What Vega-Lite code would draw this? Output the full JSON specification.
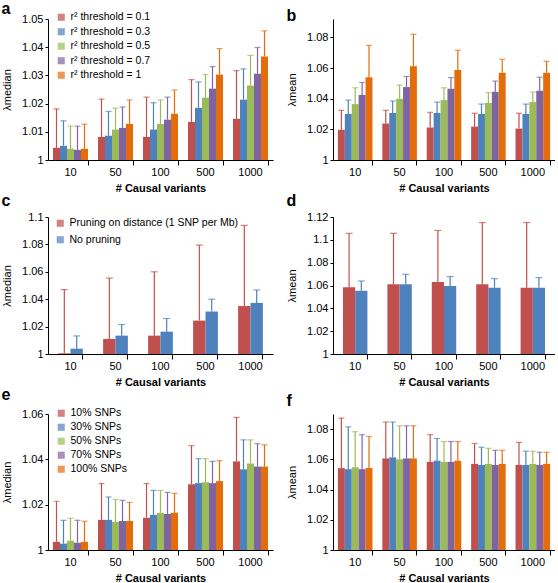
{
"$schema": "https://vega.github.io/schema/vega-lite/v6.json",
"padding": {"left": 1, "top": 1, "right": 0, "bottom": 0},
"config": {
  "font": "Liberation Sans",
  "view": {"stroke": null},
  "axis": {"domainColor": "#000", "tickColor": "#000", "labelColor": "#000", "titleColor": "#000", "labelFontSize": 11, "titleFontSize": 11, "grid": false, "domainWidth": 1, "tickWidth": 1},
  "axisY": {"tickSize": 3, "labelPadding": 2, "titleFontWeight": "normal", "titlePadding": 9},
  "legend": {"symbolType": "square", "symbolSize": 50, "labelFontSize": 10.5, "labelColor": "#000", "padding": 0, "labelOffset": 4, "symbolStrokeWidth": 0, "rowPadding": 3.5, "labelLimit": 400},
  "title": {"fontSize": 16, "fontWeight": "bold", "anchor": "start", "frame": "bounds", "color": "#000", "offset": 2},
  "concat": {"spacing": 13}
},
"datasets": {
"A": [
{"v":"10","s":"r² threshold = 0.1","m":1.0043,"u":1.0181},
{"v":"10","s":"r² threshold = 0.3","m":1.005,"u":1.0139},
{"v":"10","s":"r² threshold = 0.5","m":1.004,"u":1.012},
{"v":"10","s":"r² threshold = 0.7","m":1.0036,"u":1.012},
{"v":"10","s":"r² threshold = 1","m":1.004,"u":1.0127},
{"v":"50","s":"r² threshold = 0.1","m":1.0082,"u":1.0216},
{"v":"50","s":"r² threshold = 0.3","m":1.0086,"u":1.0172},
{"v":"50","s":"r² threshold = 0.5","m":1.0108,"u":1.0184},
{"v":"50","s":"r² threshold = 0.7","m":1.0114,"u":1.0188},
{"v":"50","s":"r² threshold = 1","m":1.0128,"u":1.0213},
{"v":"100","s":"r² threshold = 0.1","m":1.0082,"u":1.0223},
{"v":"100","s":"r² threshold = 0.3","m":1.0108,"u":1.0203},
{"v":"100","s":"r² threshold = 0.5","m":1.0128,"u":1.0213},
{"v":"100","s":"r² threshold = 0.7","m":1.0143,"u":1.0223},
{"v":"100","s":"r² threshold = 1","m":1.0164,"u":1.0248},
{"v":"500","s":"r² threshold = 0.1","m":1.0135,"u":1.0285},
{"v":"500","s":"r² threshold = 0.3","m":1.0185,"u":1.0277},
{"v":"500","s":"r² threshold = 0.5","m":1.0221,"u":1.0303},
{"v":"500","s":"r² threshold = 0.7","m":1.0253,"u":1.0331},
{"v":"500","s":"r² threshold = 1","m":1.0303,"u":1.0395},
{"v":"1000","s":"r² threshold = 0.1","m":1.0146,"u":1.0317},
{"v":"1000","s":"r² threshold = 0.3","m":1.0214,"u":1.0323},
{"v":"1000","s":"r² threshold = 0.5","m":1.0264,"u":1.0371},
{"v":"1000","s":"r² threshold = 0.7","m":1.0306,"u":1.0399},
{"v":"1000","s":"r² threshold = 1","m":1.0367,"u":1.0458}
],
"B": [
{"v":"10","s":"r² threshold = 0.1","m":1.0197,"u":1.0324},
{"v":"10","s":"r² threshold = 0.3","m":1.030,"u":1.0391},
{"v":"10","s":"r² threshold = 0.5","m":1.0365,"u":1.0471},
{"v":"10","s":"r² threshold = 0.7","m":1.0424,"u":1.0506},
{"v":"10","s":"r² threshold = 1","m":1.054,"u":1.0748},
{"v":"50","s":"r² threshold = 0.1","m":1.0238,"u":1.0324},
{"v":"50","s":"r² threshold = 0.3","m":1.0307,"u":1.0385},
{"v":"50","s":"r² threshold = 0.5","m":1.040,"u":1.0489},
{"v":"50","s":"r² threshold = 0.7","m":1.0476,"u":1.0545},
{"v":"50","s":"r² threshold = 1","m":1.0612,"u":1.082},
{"v":"100","s":"r² threshold = 0.1","m":1.0212,"u":1.0311},
{"v":"100","s":"r² threshold = 0.3","m":1.0307,"u":1.0378},
{"v":"100","s":"r² threshold = 0.5","m":1.0391,"u":1.0471},
{"v":"100","s":"r² threshold = 0.7","m":1.0465,"u":1.0538},
{"v":"100","s":"r² threshold = 1","m":1.0588,"u":1.0716},
{"v":"500","s":"r² threshold = 0.1","m":1.0218,"u":1.0305},
{"v":"500","s":"r² threshold = 0.3","m":1.030,"u":1.0365},
{"v":"500","s":"r² threshold = 0.5","m":1.0372,"u":1.0439},
{"v":"500","s":"r² threshold = 0.7","m":1.0445,"u":1.0515},
{"v":"500","s":"r² threshold = 1","m":1.0569,"u":1.0657},
{"v":"1000","s":"r² threshold = 0.1","m":1.0205,"u":1.0305},
{"v":"1000","s":"r² threshold = 0.3","m":1.030,"u":1.0365},
{"v":"1000","s":"r² threshold = 0.5","m":1.0378,"u":1.0443},
{"v":"1000","s":"r² threshold = 0.7","m":1.0452,"u":1.054},
{"v":"1000","s":"r² threshold = 1","m":1.0569,"u":1.0644}
],
"C": [
{"v":"10","s":"Pruning on distance (1 SNP per Mb)","m":1.0005,"u":1.047},
{"v":"10","s":"No pruning","m":1.0039,"u":1.0132},
{"v":"50","s":"Pruning on distance (1 SNP per Mb)","m":1.011,"u":1.0554},
{"v":"50","s":"No pruning","m":1.0134,"u":1.0215},
{"v":"100","s":"Pruning on distance (1 SNP per Mb)","m":1.0134,"u":1.06},
{"v":"100","s":"No pruning","m":1.0163,"u":1.0259},
{"v":"500","s":"Pruning on distance (1 SNP per Mb)","m":1.0244,"u":1.0795},
{"v":"500","s":"No pruning","m":1.031,"u":1.04},
{"v":"1000","s":"Pruning on distance (1 SNP per Mb)","m":1.035,"u":1.0939},
{"v":"1000","s":"No pruning","m":1.0373,"u":1.0468}
],
"D": [
{"v":"10","s":"Pruning on distance (1 SNP per Mb)","m":1.0585,"u":1.1057},
{"v":"10","s":"No pruning","m":1.0554,"u":1.064},
{"v":"50","s":"Pruning on distance (1 SNP per Mb)","m":1.061,"u":1.1057},
{"v":"50","s":"No pruning","m":1.061,"u":1.0698},
{"v":"100","s":"Pruning on distance (1 SNP per Mb)","m":1.063,"u":1.1082},
{"v":"100","s":"No pruning","m":1.0595,"u":1.0678},
{"v":"500","s":"Pruning on distance (1 SNP per Mb)","m":1.061,"u":1.1151},
{"v":"500","s":"No pruning","m":1.058,"u":1.066},
{"v":"1000","s":"Pruning on distance (1 SNP per Mb)","m":1.058,"u":1.1151},
{"v":"1000","s":"No pruning","m":1.058,"u":1.0669}
],
"E": [
{"v":"10","s":"10% SNPs","m":1.0036,"u":1.0215},
{"v":"10","s":"30% SNPs","m":1.0028,"u":1.0131},
{"v":"10","s":"50% SNPs","m":1.0041,"u":1.014},
{"v":"10","s":"70% SNPs","m":1.0032,"u":1.0131},
{"v":"10","s":"100% SNPs","m":1.0036,"u":1.0127},
{"v":"50","s":"10% SNPs","m":1.0133,"u":1.0293},
{"v":"50","s":"30% SNPs","m":1.0133,"u":1.0234},
{"v":"50","s":"50% SNPs","m":1.0124,"u":1.0223},
{"v":"50","s":"70% SNPs","m":1.0128,"u":1.0219},
{"v":"50","s":"100% SNPs","m":1.0128,"u":1.021},
{"v":"100","s":"10% SNPs","m":1.0142,"u":1.0293},
{"v":"100","s":"30% SNPs","m":1.0155,"u":1.0263},
{"v":"100","s":"50% SNPs","m":1.0164,"u":1.0263},
{"v":"100","s":"70% SNPs","m":1.0159,"u":1.0254},
{"v":"100","s":"100% SNPs","m":1.0164,"u":1.025},
{"v":"500","s":"10% SNPs","m":1.029,"u":1.046},
{"v":"500","s":"30% SNPs","m":1.0295,"u":1.0403},
{"v":"500","s":"50% SNPs","m":1.0299,"u":1.0403},
{"v":"500","s":"70% SNPs","m":1.0295,"u":1.0391},
{"v":"500","s":"100% SNPs","m":1.0304,"u":1.0394},
{"v":"1000","s":"10% SNPs","m":1.0391,"u":1.0585},
{"v":"1000","s":"30% SNPs","m":1.0356,"u":1.0486},
{"v":"1000","s":"50% SNPs","m":1.0382,"u":1.0486},
{"v":"1000","s":"70% SNPs","m":1.0368,"u":1.0469},
{"v":"1000","s":"100% SNPs","m":1.0368,"u":1.0464}
],
"F": [
{"v":"10","s":"10% SNPs","m":1.0542,"u":1.0873},
{"v":"10","s":"30% SNPs","m":1.0535,"u":1.0815},
{"v":"10","s":"50% SNPs","m":1.0548,"u":1.0783},
{"v":"10","s":"70% SNPs","m":1.0535,"u":1.0763},
{"v":"10","s":"100% SNPs","m":1.0542,"u":1.0751},
{"v":"50","s":"10% SNPs","m":1.0606,"u":1.0847},
{"v":"50","s":"30% SNPs","m":1.0613,"u":1.0847},
{"v":"50","s":"50% SNPs","m":1.060,"u":1.0822},
{"v":"50","s":"70% SNPs","m":1.0606,"u":1.0822},
{"v":"50","s":"100% SNPs","m":1.0606,"u":1.0822},
{"v":"100","s":"10% SNPs","m":1.0583,"u":1.0763},
{"v":"100","s":"30% SNPs","m":1.0591,"u":1.0738},
{"v":"100","s":"50% SNPs","m":1.0583,"u":1.0718},
{"v":"100","s":"70% SNPs","m":1.0583,"u":1.0718},
{"v":"100","s":"100% SNPs","m":1.0591,"u":1.0718},
{"v":"500","s":"10% SNPs","m":1.057,"u":1.0705},
{"v":"500","s":"30% SNPs","m":1.0563,"u":1.068},
{"v":"500","s":"50% SNPs","m":1.057,"u":1.0673},
{"v":"500","s":"70% SNPs","m":1.0563,"u":1.066},
{"v":"500","s":"100% SNPs","m":1.057,"u":1.066},
{"v":"1000","s":"10% SNPs","m":1.0563,"u":1.0712},
{"v":"1000","s":"30% SNPs","m":1.0563,"u":1.0654},
{"v":"1000","s":"50% SNPs","m":1.057,"u":1.0654},
{"v":"1000","s":"70% SNPs","m":1.0563,"u":1.0647},
{"v":"1000","s":"100% SNPs","m":1.057,"u":1.0647}
]
},
"resolve": {"scale": {"color": "independent", "xOffset": "independent"}, "legend": {"color": "independent"}},
"spacing": 0,
"vconcat": [
{"hconcat": [
 {"title": {"text": "a", "offset": -5}, "width": 225, "height": 141, "data": {"name": "A"},
  "resolve": {"axis": {"x": "independent"}},
  "layer": [
   {"mark": {"type": "bar"},
    "encoding": {
     "x": {"field": "v", "type": "nominal", "scale": {"type": "band", "domain": ["10","50","100","500","1000"], "paddingInner": 0.222, "paddingOuter": 0.111}, "axis": {"title": "# Causal variants", "titleFontWeight": "bold", "ticks": false, "labelPadding": 6, "labelAngle": 0, "titlePadding": 5}},
     "xOffset": {"field": "s", "type": "nominal", "scale": {"type": "band", "domain": ["r² threshold = 0.1","r² threshold = 0.3","r² threshold = 0.5","r² threshold = 0.7","r² threshold = 1"], "paddingInner": 0, "paddingOuter": 0}},
     "y": {"field": "m", "type": "quantitative", "scale": {"domain": [1, 1.05], "nice": false, "zero": false}, "axis": {"title": "λmedian", "values": [1, 1.01, 1.02, 1.03, 1.04, 1.05], "format": ".2~f"}},
     "y2": {"datum": 1},
     "color": {"field": "s", "type": "nominal", "scale": {"domain": ["r² threshold = 0.1","r² threshold = 0.3","r² threshold = 0.5","r² threshold = 0.7","r² threshold = 1"], "range": ["#C0504D","#4F81BD","#9BBB59","#8064A2","#E46C0A"]}, "legend": {"title": null, "orient": "none", "legendX": 8, "legendY": -7, "labelFontSize": 10.5}}
    }},
   {"mark": {"type": "rule", "strokeWidth": 1.2},
    "encoding": {
     "x": {"field": "v", "type": "nominal", "scale": {"type": "band", "domain": ["10","50","100","500","1000"], "paddingInner": 0.222, "paddingOuter": 0.111}, "axis": {"orient": "bottom", "title": null, "labels": false, "domain": false, "ticks": true, "tickSize": 5, "bandPosition": 1}},
     "xOffset": {"field": "s", "type": "nominal", "scale": {"type": "band", "domain": ["r² threshold = 0.1","r² threshold = 0.3","r² threshold = 0.5","r² threshold = 0.7","r² threshold = 1"], "paddingInner": 0, "paddingOuter": 0}},
     "y": {"field": "m", "type": "quantitative", "scale": {"domain": [1, 1.05], "nice": false, "zero": false}, "axis": {"title": "λmedian", "values": [1, 1.01, 1.02, 1.03, 1.04, 1.05], "format": ".2~f"}},
     "y2": {"field": "u"},
     "color": {"field": "s", "type": "nominal"}
    }},
   {"mark": {"type": "tick", "thickness": 1.2, "size": 6},
    "encoding": {
     "x": {"field": "v", "type": "nominal", "scale": {"type": "band", "domain": ["10","50","100","500","1000"], "paddingInner": 0.222, "paddingOuter": 0.111}, "axis": null},
     "xOffset": {"field": "s", "type": "nominal", "scale": {"type": "band", "domain": ["r² threshold = 0.1","r² threshold = 0.3","r² threshold = 0.5","r² threshold = 0.7","r² threshold = 1"], "paddingInner": 0, "paddingOuter": 0}},
     "y": {"field": "u", "type": "quantitative", "scale": {"domain": [1, 1.05], "nice": false, "zero": false}, "axis": {"title": "λmedian", "values": [1, 1.01, 1.02, 1.03, 1.04, 1.05], "format": ".2~f"}},
     "color": {"field": "s", "type": "nominal"}
    }}
  ]},
 {"title": {"text": "b", "offset": -5}, "width": 222, "height": 141, "data": {"name": "B"},
  "resolve": {"axis": {"x": "independent"}},
  "layer": [
   {"mark": {"type": "bar"},
    "encoding": {
     "x": {"field": "v", "type": "nominal", "scale": {"type": "band", "domain": ["10","50","100","500","1000"], "paddingInner": 0.222, "paddingOuter": 0.111}, "axis": {"title": "# Causal variants", "titleFontWeight": "bold", "ticks": false, "labelPadding": 6, "labelAngle": 0, "titlePadding": 5}},
     "xOffset": {"field": "s", "type": "nominal", "scale": {"type": "band", "domain": ["r² threshold = 0.1","r² threshold = 0.3","r² threshold = 0.5","r² threshold = 0.7","r² threshold = 1"], "paddingInner": 0, "paddingOuter": 0}},
     "y": {"field": "m", "type": "quantitative", "scale": {"domain": [1, 1.092], "nice": false, "zero": false}, "axis": {"title": "λmean", "values": [1, 1.02, 1.04, 1.06, 1.08], "format": ".2~f"}},
     "y2": {"datum": 1},
     "color": {"field": "s", "type": "nominal", "scale": {"domain": ["r² threshold = 0.1","r² threshold = 0.3","r² threshold = 0.5","r² threshold = 0.7","r² threshold = 1"], "range": ["#C0504D","#4F81BD","#9BBB59","#8064A2","#E46C0A"]}, "legend": null}
    }},
   {"mark": {"type": "rule", "strokeWidth": 1.2},
    "encoding": {
     "x": {"field": "v", "type": "nominal", "scale": {"type": "band", "domain": ["10","50","100","500","1000"], "paddingInner": 0.222, "paddingOuter": 0.111}, "axis": {"orient": "bottom", "title": null, "labels": false, "domain": false, "ticks": true, "tickSize": 5, "bandPosition": 1}},
     "xOffset": {"field": "s", "type": "nominal", "scale": {"type": "band", "domain": ["r² threshold = 0.1","r² threshold = 0.3","r² threshold = 0.5","r² threshold = 0.7","r² threshold = 1"], "paddingInner": 0, "paddingOuter": 0}},
     "y": {"field": "m", "type": "quantitative", "scale": {"domain": [1, 1.092], "nice": false, "zero": false}, "axis": {"title": "λmean", "values": [1, 1.02, 1.04, 1.06, 1.08], "format": ".2~f"}},
     "y2": {"field": "u"},
     "color": {"field": "s", "type": "nominal"}
    }},
   {"mark": {"type": "tick", "thickness": 1.2, "size": 6},
    "encoding": {
     "x": {"field": "v", "type": "nominal", "scale": {"type": "band", "domain": ["10","50","100","500","1000"], "paddingInner": 0.222, "paddingOuter": 0.111}, "axis": null},
     "xOffset": {"field": "s", "type": "nominal", "scale": {"type": "band", "domain": ["r² threshold = 0.1","r² threshold = 0.3","r² threshold = 0.5","r² threshold = 0.7","r² threshold = 1"], "paddingInner": 0, "paddingOuter": 0}},
     "y": {"field": "u", "type": "quantitative", "scale": {"domain": [1, 1.092], "nice": false, "zero": false}, "axis": {"title": "λmean", "values": [1, 1.02, 1.04, 1.06, 1.08], "format": ".2~f"}},
     "color": {"field": "s", "type": "nominal"}
    }}
  ]}
 ], "resolve": {"scale": {"color": "independent", "xOffset": "independent"}, "legend": {"color": "independent"}}},
{"hconcat": [
 {"title": {"text": "c", "offset": 2}, "width": 225, "height": 137, "data": {"name": "C"},
  "resolve": {"axis": {"x": "independent"}},
  "layer": [
   {"mark": {"type": "bar"},
    "encoding": {
     "x": {"field": "v", "type": "nominal", "scale": {"type": "band", "domain": ["10","50","100","500","1000"], "paddingInner": 0.45, "paddingOuter": 0.225}, "axis": {"title": "# Causal variants", "titleFontWeight": "bold", "ticks": false, "labelPadding": 6, "labelAngle": 0, "titlePadding": 5}},
     "xOffset": {"field": "s", "type": "nominal", "scale": {"type": "band", "domain": ["Pruning on distance (1 SNP per Mb)","No pruning"], "paddingInner": 0, "paddingOuter": 0}},
     "y": {"field": "m", "type": "quantitative", "scale": {"domain": [1, 1.1], "nice": false, "zero": false}, "axis": {"title": "λmedian", "values": [1, 1.02, 1.04, 1.06, 1.08, 1.1], "format": ".2~f"}},
     "y2": {"datum": 1},
     "color": {"field": "s", "type": "nominal", "scale": {"domain": ["Pruning on distance (1 SNP per Mb)","No pruning"], "range": ["#C0504D","#4F81BD"]}, "legend": {"title": null, "orient": "none", "legendX": 7, "legendY": 1, "labelFontSize": 10.5, "rowPadding": 5.5}}
    }},
   {"mark": {"type": "rule", "strokeWidth": 1.2},
    "encoding": {
     "x": {"field": "v", "type": "nominal", "scale": {"type": "band", "domain": ["10","50","100","500","1000"], "paddingInner": 0.45, "paddingOuter": 0.225}, "axis": {"orient": "bottom", "title": null, "labels": false, "domain": false, "ticks": true, "tickSize": 5, "bandPosition": 1}},
     "xOffset": {"field": "s", "type": "nominal", "scale": {"type": "band", "domain": ["Pruning on distance (1 SNP per Mb)","No pruning"], "paddingInner": 0, "paddingOuter": 0}},
     "y": {"field": "m", "type": "quantitative", "scale": {"domain": [1, 1.1], "nice": false, "zero": false}, "axis": {"title": "λmedian", "values": [1, 1.02, 1.04, 1.06, 1.08, 1.1], "format": ".2~f"}},
     "y2": {"field": "u"},
     "color": {"field": "s", "type": "nominal"}
    }},
   {"mark": {"type": "tick", "thickness": 1.2, "size": 7},
    "encoding": {
     "x": {"field": "v", "type": "nominal", "scale": {"type": "band", "domain": ["10","50","100","500","1000"], "paddingInner": 0.45, "paddingOuter": 0.225}, "axis": null},
     "xOffset": {"field": "s", "type": "nominal", "scale": {"type": "band", "domain": ["Pruning on distance (1 SNP per Mb)","No pruning"], "paddingInner": 0, "paddingOuter": 0}},
     "y": {"field": "u", "type": "quantitative", "scale": {"domain": [1, 1.1], "nice": false, "zero": false}, "axis": {"title": "λmedian", "values": [1, 1.02, 1.04, 1.06, 1.08, 1.1], "format": ".2~f"}},
     "color": {"field": "s", "type": "nominal"}
    }}
  ]},
 {"title": {"text": "d", "offset": 2}, "width": 222, "height": 137, "data": {"name": "D"},
  "resolve": {"axis": {"x": "independent"}},
  "layer": [
   {"mark": {"type": "bar"},
    "encoding": {
     "x": {"field": "v", "type": "nominal", "scale": {"type": "band", "domain": ["10","50","100","500","1000"], "paddingInner": 0.45, "paddingOuter": 0.225}, "axis": {"title": "# Causal variants", "titleFontWeight": "bold", "ticks": false, "labelPadding": 6, "labelAngle": 0, "titlePadding": 5}},
     "xOffset": {"field": "s", "type": "nominal", "scale": {"type": "band", "domain": ["Pruning on distance (1 SNP per Mb)","No pruning"], "paddingInner": 0, "paddingOuter": 0}},
     "y": {"field": "m", "type": "quantitative", "scale": {"domain": [1, 1.12], "nice": false, "zero": false}, "axis": {"title": "λmean", "values": [1, 1.02, 1.04, 1.06, 1.08, 1.1, 1.12], "format": ".2~f"}},
     "y2": {"datum": 1},
     "color": {"field": "s", "type": "nominal", "scale": {"domain": ["Pruning on distance (1 SNP per Mb)","No pruning"], "range": ["#C0504D","#4F81BD"]}, "legend": null}
    }},
   {"mark": {"type": "rule", "strokeWidth": 1.2},
    "encoding": {
     "x": {"field": "v", "type": "nominal", "scale": {"type": "band", "domain": ["10","50","100","500","1000"], "paddingInner": 0.45, "paddingOuter": 0.225}, "axis": {"orient": "bottom", "title": null, "labels": false, "domain": false, "ticks": true, "tickSize": 5, "bandPosition": 1}},
     "xOffset": {"field": "s", "type": "nominal", "scale": {"type": "band", "domain": ["Pruning on distance (1 SNP per Mb)","No pruning"], "paddingInner": 0, "paddingOuter": 0}},
     "y": {"field": "m", "type": "quantitative", "scale": {"domain": [1, 1.12], "nice": false, "zero": false}, "axis": {"title": "λmean", "values": [1, 1.02, 1.04, 1.06, 1.08, 1.1, 1.12], "format": ".2~f"}},
     "y2": {"field": "u"},
     "color": {"field": "s", "type": "nominal"}
    }},
   {"mark": {"type": "tick", "thickness": 1.2, "size": 7},
    "encoding": {
     "x": {"field": "v", "type": "nominal", "scale": {"type": "band", "domain": ["10","50","100","500","1000"], "paddingInner": 0.45, "paddingOuter": 0.225}, "axis": null},
     "xOffset": {"field": "s", "type": "nominal", "scale": {"type": "band", "domain": ["Pruning on distance (1 SNP per Mb)","No pruning"], "paddingInner": 0, "paddingOuter": 0}},
     "y": {"field": "u", "type": "quantitative", "scale": {"domain": [1, 1.12], "nice": false, "zero": false}, "axis": {"title": "λmean", "values": [1, 1.02, 1.04, 1.06, 1.08, 1.1, 1.12], "format": ".2~f"}},
     "color": {"field": "s", "type": "nominal"}
    }}
  ]}
 ], "resolve": {"scale": {"color": "independent", "xOffset": "independent"}, "legend": {"color": "independent"}}},
{"hconcat": [
 {"title": {"text": "e", "offset": 5}, "width": 225, "height": 136, "data": {"name": "E"},
  "resolve": {"axis": {"x": "independent"}},
  "layer": [
   {"mark": {"type": "bar"},
    "encoding": {
     "x": {"field": "v", "type": "nominal", "scale": {"type": "band", "domain": ["10","50","100","500","1000"], "paddingInner": 0.222, "paddingOuter": 0.111}, "axis": {"title": "# Causal variants", "titleFontWeight": "bold", "ticks": false, "labelPadding": 6, "labelAngle": 0, "titlePadding": 5}},
     "xOffset": {"field": "s", "type": "nominal", "scale": {"type": "band", "domain": ["10% SNPs","30% SNPs","50% SNPs","70% SNPs","100% SNPs"], "paddingInner": 0, "paddingOuter": 0}},
     "y": {"field": "m", "type": "quantitative", "scale": {"domain": [1, 1.06], "nice": false, "zero": false}, "axis": {"title": "λmedian", "values": [1, 1.02, 1.04, 1.06], "format": ".2~f"}},
     "y2": {"datum": 1},
     "color": {"field": "s", "type": "nominal", "scale": {"domain": ["10% SNPs","30% SNPs","50% SNPs","70% SNPs","100% SNPs"], "range": ["#C0504D","#4F81BD","#9BBB59","#8064A2","#E46C0A"]}, "legend": {"title": null, "orient": "none", "legendX": 8, "legendY": -6, "rowPadding": 3}}
    }},
   {"mark": {"type": "rule", "strokeWidth": 1.2},
    "encoding": {
     "x": {"field": "v", "type": "nominal", "scale": {"type": "band", "domain": ["10","50","100","500","1000"], "paddingInner": 0.222, "paddingOuter": 0.111}, "axis": {"orient": "bottom", "title": null, "labels": false, "domain": false, "ticks": true, "tickSize": 5, "bandPosition": 1}},
     "xOffset": {"field": "s", "type": "nominal", "scale": {"type": "band", "domain": ["10% SNPs","30% SNPs","50% SNPs","70% SNPs","100% SNPs"], "paddingInner": 0, "paddingOuter": 0}},
     "y": {"field": "m", "type": "quantitative", "scale": {"domain": [1, 1.06], "nice": false, "zero": false}, "axis": {"title": "λmedian", "values": [1, 1.02, 1.04, 1.06], "format": ".2~f"}},
     "y2": {"field": "u"},
     "color": {"field": "s", "type": "nominal"}
    }},
   {"mark": {"type": "tick", "thickness": 1.2, "size": 6},
    "encoding": {
     "x": {"field": "v", "type": "nominal", "scale": {"type": "band", "domain": ["10","50","100","500","1000"], "paddingInner": 0.222, "paddingOuter": 0.111}, "axis": null},
     "xOffset": {"field": "s", "type": "nominal", "scale": {"type": "band", "domain": ["10% SNPs","30% SNPs","50% SNPs","70% SNPs","100% SNPs"], "paddingInner": 0, "paddingOuter": 0}},
     "y": {"field": "u", "type": "quantitative", "scale": {"domain": [1, 1.06], "nice": false, "zero": false}, "axis": {"title": "λmedian", "values": [1, 1.02, 1.04, 1.06], "format": ".2~f"}},
     "color": {"field": "s", "type": "nominal"}
    }}
  ]},
 {"title": {"text": "f", "offset": 5}, "width": 222, "height": 136, "data": {"name": "F"},
  "resolve": {"axis": {"x": "independent"}},
  "layer": [
   {"mark": {"type": "bar"},
    "encoding": {
     "x": {"field": "v", "type": "nominal", "scale": {"type": "band", "domain": ["10","50","100","500","1000"], "paddingInner": 0.222, "paddingOuter": 0.111}, "axis": {"title": "# Causal variants", "titleFontWeight": "bold", "ticks": false, "labelPadding": 6, "labelAngle": 0, "titlePadding": 5}},
     "xOffset": {"field": "s", "type": "nominal", "scale": {"type": "band", "domain": ["10% SNPs","30% SNPs","50% SNPs","70% SNPs","100% SNPs"], "paddingInner": 0, "paddingOuter": 0}},
     "y": {"field": "m", "type": "quantitative", "scale": {"domain": [1, 1.09], "nice": false, "zero": false}, "axis": {"title": "λmean", "values": [1, 1.02, 1.04, 1.06, 1.08], "format": ".2~f"}},
     "y2": {"datum": 1},
     "color": {"field": "s", "type": "nominal", "scale": {"domain": ["10% SNPs","30% SNPs","50% SNPs","70% SNPs","100% SNPs"], "range": ["#C0504D","#4F81BD","#9BBB59","#8064A2","#E46C0A"]}, "legend": null}
    }},
   {"mark": {"type": "rule", "strokeWidth": 1.2},
    "encoding": {
     "x": {"field": "v", "type": "nominal", "scale": {"type": "band", "domain": ["10","50","100","500","1000"], "paddingInner": 0.222, "paddingOuter": 0.111}, "axis": {"orient": "bottom", "title": null, "labels": false, "domain": false, "ticks": true, "tickSize": 5, "bandPosition": 1}},
     "xOffset": {"field": "s", "type": "nominal", "scale": {"type": "band", "domain": ["10% SNPs","30% SNPs","50% SNPs","70% SNPs","100% SNPs"], "paddingInner": 0, "paddingOuter": 0}},
     "y": {"field": "m", "type": "quantitative", "scale": {"domain": [1, 1.09], "nice": false, "zero": false}, "axis": {"title": "λmean", "values": [1, 1.02, 1.04, 1.06, 1.08], "format": ".2~f"}},
     "y2": {"field": "u"},
     "color": {"field": "s", "type": "nominal"}
    }},
   {"mark": {"type": "tick", "thickness": 1.2, "size": 6},
    "encoding": {
     "x": {"field": "v", "type": "nominal", "scale": {"type": "band", "domain": ["10","50","100","500","1000"], "paddingInner": 0.222, "paddingOuter": 0.111}, "axis": null},
     "xOffset": {"field": "s", "type": "nominal", "scale": {"type": "band", "domain": ["10% SNPs","30% SNPs","50% SNPs","70% SNPs","100% SNPs"], "paddingInner": 0, "paddingOuter": 0}},
     "y": {"field": "u", "type": "quantitative", "scale": {"domain": [1, 1.09], "nice": false, "zero": false}, "axis": {"title": "λmean", "values": [1, 1.02, 1.04, 1.06, 1.08], "format": ".2~f"}},
     "color": {"field": "s", "type": "nominal"}
    }}
  ]}
 ], "resolve": {"scale": {"color": "independent", "xOffset": "independent"}, "legend": {"color": "independent"}}}
]
}
